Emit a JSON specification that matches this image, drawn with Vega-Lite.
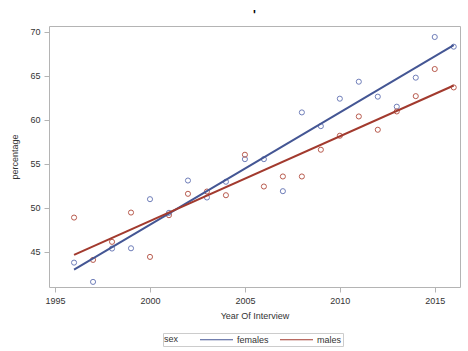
{
  "$schema": "https://vega.github.io/schema/vega-lite/v6.json",
  "autosize": {"type": "none"},
  "width": 411,
  "height": 261,
  "padding": {"left": 49, "top": 26, "right": 8, "bottom": 64},
  "background": "white",
  "title": {"text": "'", "fontSize": 12, "font": "Liberation Sans", "fontWeight": "bold", "color": "#000", "offset": 4, "anchor": "middle"},
  "config": {
    "font": "Liberation Sans",
    "view": {"stroke": "#b4b4b4", "strokeWidth": 1},
    "axis": {"labelFont": "Liberation Sans", "titleFont": "Liberation Sans", "labelFontSize": 9, "titleFontSize": 9, "labelColor": "#333", "titleColor": "#333", "titleFontWeight": "normal", "tickColor": "#b4b4b4", "tickSize": 5, "domain": false, "grid": false}
  },
  "data": {"values": [
    {"year": 1996, "sex": "females", "pct": 43.75}, {"year": 1996, "sex": "males", "pct": 48.87},
    {"year": 1997, "sex": "females", "pct": 41.56}, {"year": 1997, "sex": "males", "pct": 44.06},
    {"year": 1998, "sex": "females", "pct": 45.35}, {"year": 1998, "sex": "males", "pct": 46.11},
    {"year": 1999, "sex": "females", "pct": 45.38}, {"year": 1999, "sex": "males", "pct": 49.44},
    {"year": 2000, "sex": "females", "pct": 50.96}, {"year": 2000, "sex": "males", "pct": 44.4},
    {"year": 2001, "sex": "females", "pct": 49.41}, {"year": 2001, "sex": "males", "pct": 49.14},
    {"year": 2002, "sex": "females", "pct": 53.08}, {"year": 2002, "sex": "males", "pct": 51.57},
    {"year": 2003, "sex": "females", "pct": 51.15}, {"year": 2003, "sex": "males", "pct": 51.83},
    {"year": 2004, "sex": "females", "pct": 52.94}, {"year": 2004, "sex": "males", "pct": 51.41},
    {"year": 2005, "sex": "females", "pct": 55.51}, {"year": 2005, "sex": "males", "pct": 56.01},
    {"year": 2006, "sex": "females", "pct": 55.51}, {"year": 2006, "sex": "males", "pct": 52.4},
    {"year": 2007, "sex": "females", "pct": 51.87}, {"year": 2007, "sex": "males", "pct": 53.54},
    {"year": 2008, "sex": "females", "pct": 60.82}, {"year": 2008, "sex": "males", "pct": 53.54},
    {"year": 2009, "sex": "females", "pct": 59.26}, {"year": 2009, "sex": "males", "pct": 56.58},
    {"year": 2010, "sex": "females", "pct": 62.38}, {"year": 2010, "sex": "males", "pct": 58.17},
    {"year": 2011, "sex": "females", "pct": 64.31}, {"year": 2011, "sex": "males", "pct": 60.36},
    {"year": 2012, "sex": "females", "pct": 62.61}, {"year": 2012, "sex": "males", "pct": 58.85},
    {"year": 2013, "sex": "females", "pct": 61.47}, {"year": 2013, "sex": "males", "pct": 60.93},
    {"year": 2014, "sex": "females", "pct": 64.77}, {"year": 2014, "sex": "males", "pct": 62.67},
    {"year": 2015, "sex": "females", "pct": 69.39}, {"year": 2015, "sex": "males", "pct": 65.75},
    {"year": 2016, "sex": "females", "pct": 68.29}, {"year": 2016, "sex": "males", "pct": 63.66}
  ]},
  "encoding": {
    "x": {"field": "year", "type": "quantitative", "title": "Year Of Interview",
      "scale": {"domain": [1994.68, 2016.33], "nice": false, "zero": false},
      "axis": {"values": [1995, 2000, 2005, 2010, 2015], "format": "d", "labelPadding": 4, "titlePadding": 6}},
    "y": {"field": "pct", "type": "quantitative", "title": "percentage",
      "scale": {"domain": [40.98, 70.64], "nice": false, "zero": false},
      "axis": {"values": [45, 50, 55, 60, 65, 70], "labelPadding": 4, "titlePadding": 10}}
  },
  "layer": [
    {
      "mark": {"type": "point", "filled": false, "size": 26, "strokeWidth": 1, "opacity": 1},
      "encoding": {
        "stroke": {"field": "sex", "type": "nominal", "legend": null,
          "scale": {"domain": ["females", "males"], "range": ["#6f7eb9", "#b85b4e"]}}
      }
    },
    {
      "transform": [{"regression": "pct", "on": "year", "groupby": ["sex"]}],
      "mark": {"type": "line", "strokeWidth": 2},
      "encoding": {
        "color": {"field": "sex", "type": "nominal",
          "scale": {"domain": ["females", "males"], "range": ["#445694", "#a23a2e"]},
          "legend": {"orient": "none", "legendX": 114, "legendY": 307, "direction": "horizontal", "title": "\u00a0\u00a0sex", "titleOrient": "left",
            "titleFontWeight": "normal", "titleFont": "Liberation Sans", "titleFontSize": 9, "titleColor": "#333", "titlePadding": 32,
            "labelFont": "Liberation Sans", "labelFontSize": 9, "labelColor": "#333",
            "labelExpr": "datum.label + '\u00a0\u00a0\u00a0'",
            "symbolType": "M-3.3,0H3.3", "symbolSize": 100, "symbolStrokeWidth": 1,
            "strokeColor": "#cccccc", "padding": 1, "cornerRadius": 0, "columnPadding": 9, "labelOffset": 15}
        }
      }
    }
  ],
  "resolve": {"scale": {"color": "independent"}}
}
